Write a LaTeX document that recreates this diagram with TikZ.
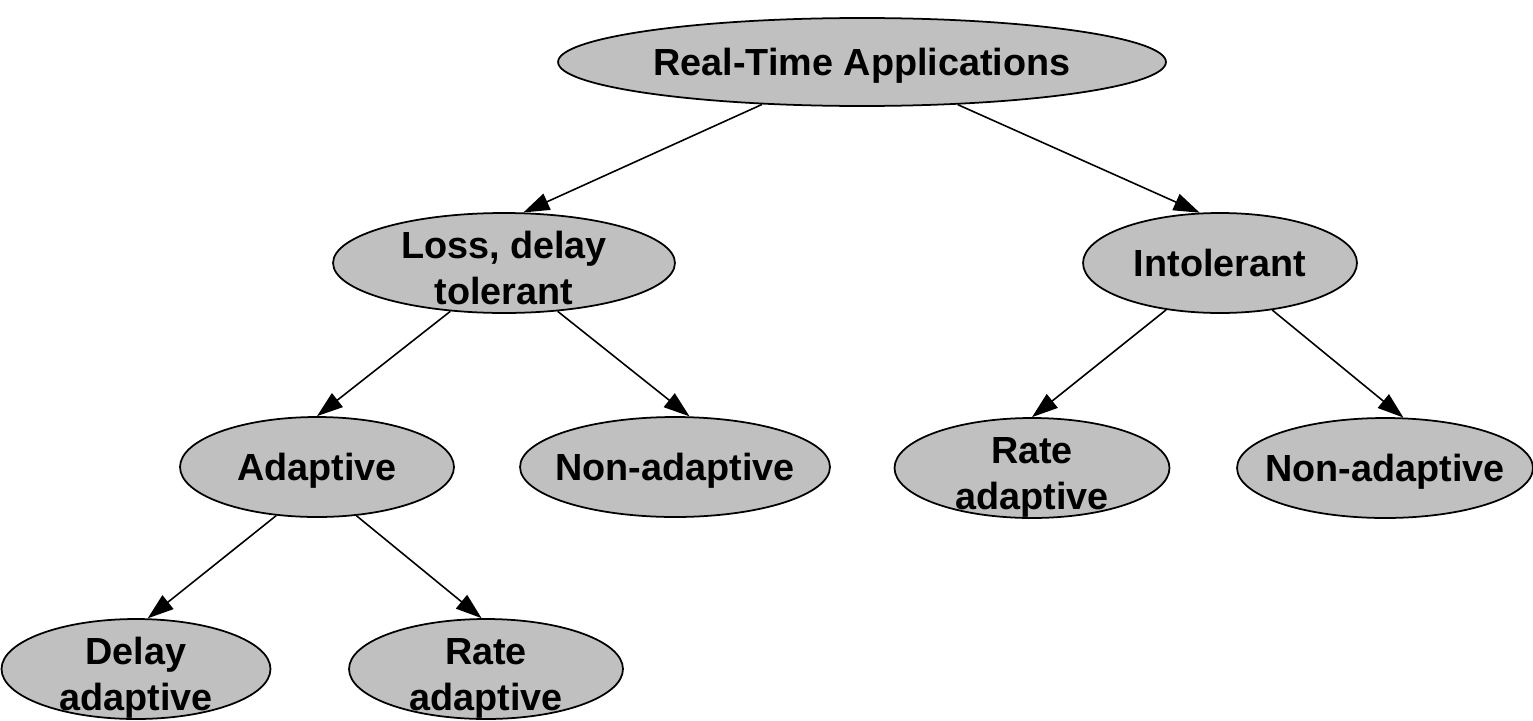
\documentclass[tikz,border=0pt]{standalone}
\usepackage{fontspec}
\setmainfont{Liberation Sans}
\usetikzlibrary{shapes,arrows.meta}

\definecolor{blobgray}{RGB}{192,192,192}

\begin{document}
\begin{tikzpicture}[x=0.02cm,y=-0.02cm,
  blob/.style={ellipse,draw,line width=1pt,fill=blobgray,inner xsep=-0.4cm,inner ysep=-0.2cm,
    minimum height=2cm,align=center,text depth=0pt,font=\fontsize{21.5}{26}\selectfont\bfseries},
  twoline/.style={blob,text height=47pt},
  link/.style={line width=0.9pt,-{Triangle[length=0.52cm,width=0.35cm]}}]
\useasboundingbox (0,0) rectangle (1533,720);
\node[blob,minimum width=12.16cm,minimum height=1.76cm] (rt) at (862,62) {Real-Time Applications};
\node[twoline,minimum width=6.84cm] (loss) at (504,263) {Loss, delay\\tolerant};
\node[blob,minimum width=5.48cm] (intol) at (1220,263) {Intolerant};
\node[blob,minimum width=5.48cm] (adapt) at (317,467) {Adaptive};
\node[blob,minimum width=6.2cm] (nonadaptL) at (675,467) {Non-adaptive};
\node[twoline,minimum width=5.5cm] (rateR) at (1032,468) {Rate\\adaptive};
\node[blob,minimum width=5.92cm] (nonadaptR) at (1385,468) {Non-adaptive};
\node[twoline,minimum width=5.38cm] (delay) at (136,669) {Delay\\adaptive};
\node[twoline,minimum width=5.48cm] (rateB) at (486,669) {Rate\\adaptive};

\draw[link] (rt.203) -- (loss.69);
\draw[link] (rt.336) -- (intol.112);
\draw[link] (loss.222) -- (adapt.90);
\draw[link] (loss.318) -- (nonadaptL.74);
\draw[link] (intol.221) -- (rateR.90);
\draw[link] (intol.318) -- (nonadaptR.70);
\draw[link] (adapt.230) -- (delay.77);
\draw[link] (adapt.309) -- (rateB.95);
\end{tikzpicture}
\end{document}
